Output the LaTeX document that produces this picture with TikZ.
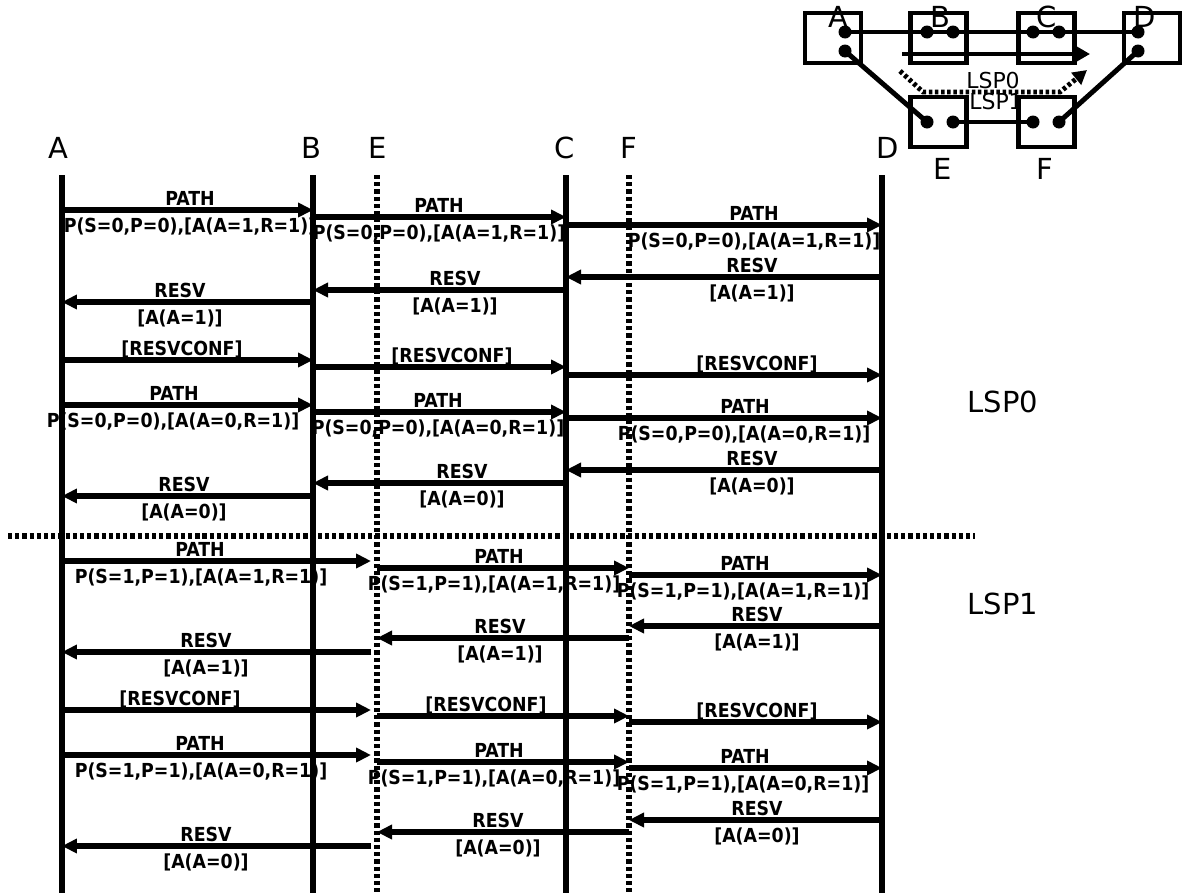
\documentclass[tikz,border=0pt]{standalone}
\usepackage{fontspec}
\setmainfont{DejaVu Sans}
\newfontfamily\msgfont{DejaVu Sans Condensed}
\usetikzlibrary{arrows.meta}
\newcommand{\msgsize}{\msgfont\bfseries\fontsize{11}{13}\selectfont}
\newcommand{\headsize}{\fontsize{16.5}{19}\selectfont}
\newcommand{\tagsize}{\fontsize{12.5}{15}\selectfont}
\begin{document}
\begin{tikzpicture}[x=0.02cm,y=-0.02cm,
  life/.style={line width=3pt},
  lifedot/.style={line width=3pt,dash pattern=on 2.4pt off 1.7pt},
  msg/.style={line width=3pt,-{Triangle[length=3mm,width=2.8mm]}},
  msgtop/.style={font=\msgsize,anchor=south,inner xsep=0pt,inner ysep=0.08cm,text height=0.28cm,text depth=0pt},
  msgbot/.style={font=\msgsize,anchor=north,inner xsep=0pt,inner ysep=0.17cm,text height=0.28cm,text depth=0pt},
  head/.style={font=\headsize,inner sep=0pt},
  tag/.style={font=\tagsize,inner sep=0pt},
  box/.style={draw,line width=2.7pt,minimum width=1.12cm,minimum height=1cm,inner sep=0pt},
  dot/.style={circle,fill,inner sep=0pt,minimum size=0.26cm},
  link/.style={line width=2.8pt},
  lspsolid/.style={line width=2.8pt,-{Triangle[length=2.8mm,width=3mm]}},
  lspdot/.style={line width=2.8pt,dash pattern=on 2pt off 1.5pt,-{Triangle[length=2.8mm,width=3mm]}}]
\useasboundingbox (0,0) rectangle (1182,893);
\coordinate (A) at (62,175);
\coordinate (B) at (313,175);
\coordinate (E) at (377,175);
\coordinate (El) at (371,175);
\coordinate (C) at (566,175);
\coordinate (F) at (629,175);
\coordinate (D) at (882,175);
\node[head] (hA) at (58,148) {A};
\node[head] (hB) at (311,148) {B};
\node[head] (hE) at (378,148) {E};
\node[head] (hC) at (565,148) {C};
\node[head] (hF) at (629,148) {F};
\node[head] (hD) at (888,148) {D};
\node[head] (lsp0) at (1003,402) {LSP0};
\node[head] (lsp1) at (1003,604) {LSP1};
\node[msgtop] (m1t) at (190,210) {PATH};
\node[msgbot] (m1b) at (190,210) {P(S=0,P=0),[A(A=1,R=1)]};
\node[msgtop] (m2t) at (439,217) {PATH};
\node[msgbot] (m2b) at (439,217) {P(S=0,P=0),[A(A=1,R=1)]};
\node[msgtop] (m3t) at (754,225) {PATH};
\node[msgbot] (m3b) at (754,225) {P(S=0,P=0),[A(A=1,R=1)]};
\node[msgtop] (m4t) at (752,277) {RESV};
\node[msgbot] (m4b) at (752,277) {[A(A=1)]};
\node[msgtop] (m5t) at (455,290) {RESV};
\node[msgbot] (m5b) at (455,290) {[A(A=1)]};
\node[msgtop] (m6t) at (180,302) {RESV};
\node[msgbot] (m6b) at (180,302) {[A(A=1)]};
\node[msgtop] (m7t) at (182,360) {[RESVCONF]};
\node[msgtop] (m8t) at (452,367) {[RESVCONF]};
\node[msgtop] (m9t) at (757,375) {[RESVCONF]};
\node[msgtop] (m10t) at (174,405) {PATH};
\node[msgbot] (m10b) at (173,405) {P(S=0,P=0),[A(A=0,R=1)]};
\node[msgtop] (m11t) at (438,412) {PATH};
\node[msgbot] (m11b) at (438,412) {P(S=0,P=0),[A(A=0,R=1)]};
\node[msgtop] (m12t) at (745,418) {PATH};
\node[msgbot] (m12b) at (744,418) {P(S=0,P=0),[A(A=0,R=1)]};
\node[msgtop] (m13t) at (752,470) {RESV};
\node[msgbot] (m13b) at (752,470) {[A(A=0)]};
\node[msgtop] (m14t) at (462,483) {RESV};
\node[msgbot] (m14b) at (462,483) {[A(A=0)]};
\node[msgtop] (m15t) at (184,496) {RESV};
\node[msgbot] (m15b) at (184,496) {[A(A=0)]};
\node[msgtop] (m16t) at (200,561) {PATH};
\node[msgbot] (m16b) at (201,561) {P(S=1,P=1),[A(A=1,R=1)]};
\node[msgtop] (m17t) at (499,568) {PATH};
\node[msgbot] (m17b) at (494,568) {P(S=1,P=1),[A(A=1,R=1)]};
\node[msgtop] (m18t) at (745,575) {PATH};
\node[msgbot] (m18b) at (743,575) {P(S=1,P=1),[A(A=1,R=1)]};
\node[msgtop] (m19t) at (757,626) {RESV};
\node[msgbot] (m19b) at (757,626) {[A(A=1)]};
\node[msgtop] (m20t) at (500,638) {RESV};
\node[msgbot] (m20b) at (500,638) {[A(A=1)]};
\node[msgtop] (m21t) at (206,652) {RESV};
\node[msgbot] (m21b) at (206,652) {[A(A=1)]};
\node[msgtop] (m22t) at (180,710) {[RESVCONF]};
\node[msgtop] (m23t) at (486,716) {[RESVCONF]};
\node[msgtop] (m24t) at (757,722) {[RESVCONF]};
\node[msgtop] (m25t) at (200,755) {PATH};
\node[msgbot] (m25b) at (201,755) {P(S=1,P=1),[A(A=0,R=1)]};
\node[msgtop] (m26t) at (499,762) {PATH};
\node[msgbot] (m26b) at (494,762) {P(S=1,P=1),[A(A=0,R=1)]};
\node[msgtop] (m27t) at (745,768) {PATH};
\node[msgbot] (m27b) at (743,768) {P(S=1,P=1),[A(A=0,R=1)]};
\node[msgtop] (m28t) at (757,820) {RESV};
\node[msgbot] (m28b) at (757,820) {[A(A=0)]};
\node[msgtop] (m29t) at (498,832) {RESV};
\node[msgbot] (m29b) at (498,832) {[A(A=0)]};
\node[msgtop] (m30t) at (206,846) {RESV};
\node[msgbot] (m30b) at (206,846) {[A(A=0)]};
\draw[life] (A) -- (A |- 0,893);
\draw[life] (B) -- (B |- 0,893);
\draw[lifedot] (E) -- (E |- 0,893);
\draw[life] (C) -- (C |- 0,893);
\draw[lifedot] (F) -- (F |- 0,893);
\draw[life] (D) -- (D |- 0,893);
\coordinate (sepL) at (8,536);
\coordinate (sepR) at (975,536);
\draw[lifedot] (sepL) -- (sepR);
\draw[msg] (A |- 0,210) -- (B |- 0,210);
\draw[msg] (B |- 0,217) -- (C |- 0,217);
\draw[msg] (C |- 0,225) -- (D |- 0,225);
\draw[msg] (D |- 0,277) -- (C |- 0,277);
\draw[msg] (C |- 0,290) -- (B |- 0,290);
\draw[msg] (B |- 0,302) -- (A |- 0,302);
\draw[msg] (A |- 0,360) -- (B |- 0,360);
\draw[msg] (B |- 0,367) -- (C |- 0,367);
\draw[msg] (C |- 0,375) -- (D |- 0,375);
\draw[msg] (A |- 0,405) -- (B |- 0,405);
\draw[msg] (B |- 0,412) -- (C |- 0,412);
\draw[msg] (C |- 0,418) -- (D |- 0,418);
\draw[msg] (D |- 0,470) -- (C |- 0,470);
\draw[msg] (C |- 0,483) -- (B |- 0,483);
\draw[msg] (B |- 0,496) -- (A |- 0,496);
\draw[msg] (A |- 0,561) -- (El |- 0,561);
\draw[msg] (E |- 0,568) -- (F |- 0,568);
\draw[msg] (F |- 0,575) -- (D |- 0,575);
\draw[msg] (D |- 0,626) -- (F |- 0,626);
\draw[msg] (F |- 0,638) -- (E |- 0,638);
\draw[msg] (El |- 0,652) -- (A |- 0,652);
\draw[msg] (A |- 0,710) -- (El |- 0,710);
\draw[msg] (E |- 0,716) -- (F |- 0,716);
\draw[msg] (F |- 0,722) -- (D |- 0,722);
\draw[msg] (A |- 0,755) -- (El |- 0,755);
\draw[msg] (E |- 0,762) -- (F |- 0,762);
\draw[msg] (F |- 0,768) -- (D |- 0,768);
\draw[msg] (D |- 0,820) -- (F |- 0,820);
\draw[msg] (F |- 0,832) -- (E |- 0,832);
\draw[msg] (El |- 0,846) -- (A |- 0,846);
\node[tag] (t0) at (993,81) {LSP0};
\node[tag] (t1) at (996,102) {LSP1};
\node[box] (bA) at (833,38) {};
\node[box] (bB) at (938.5,38) {};
\node[box] (bC) at (1046.5,38) {};
\node[box] (bD) at (1152,38) {};
\node[box] (bE) at (938.5,122) {};
\node[box] (bF) at (1046.5,122) {};
\node[head] (nA) at (838,17) {A};
\node[head] (nB) at (940,17) {B};
\node[head] (nC) at (1047,17) {C};
\node[head] (nD) at (1145,17) {D};
\node[head] (nE) at (943,169) {E};
\node[head] (nF) at (1045,169) {F};
\node[dot] (a1) at (845,32) {};
\node[dot] (a2) at (845,51) {};
\node[dot] (b1) at (927,32) {};
\node[dot] (b2) at (953,32) {};
\node[dot] (c1) at (1033,32) {};
\node[dot] (c2) at (1059,32) {};
\node[dot] (d1) at (1138,32) {};
\node[dot] (d2) at (1138,51) {};
\node[dot] (e1) at (927,122) {};
\node[dot] (e2) at (953,122) {};
\node[dot] (f1) at (1033,122) {};
\node[dot] (f2) at (1059,122) {};
\draw[link] (a1.center) -- (b1.center) -- (b2.center) -- (c1.center) -- (c2.center) -- (d1.center);
\draw[link] (a2.center) -- (e1.center);
\draw[link] (e2.center) -- (f1.center);
\draw[link] (f2.center) -- (d2.center);
\coordinate (p0s) at (902,54);
\coordinate (p0e) at (1090,54);
\draw[lspsolid] (p0s) -- (p0e);
\coordinate (p1s) at (900,71);
\coordinate (p1a) at (923,92);
\coordinate (p1b) at (1060,92);
\coordinate (p1e) at (1087,70);
\draw[lspdot] (p1s) -- (p1a) -- (p1b) -- (p1e);
\end{tikzpicture}
\end{document}
